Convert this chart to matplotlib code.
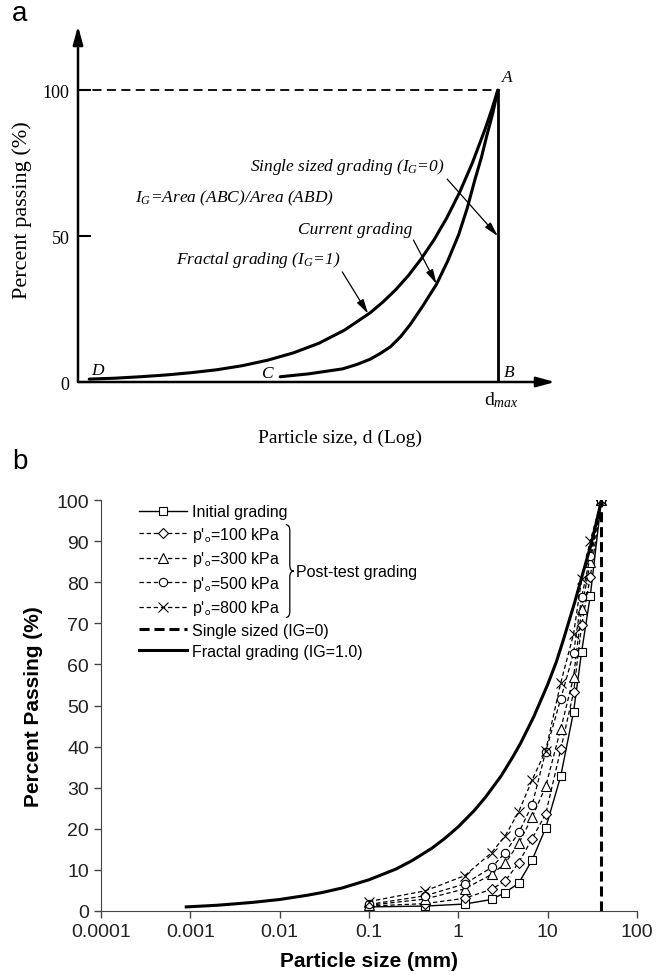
import matplotlib
matplotlib.use("Agg")
import matplotlib.pyplot as plt
from matplotlib.path import Path
from matplotlib.patches import PathPatch
from matplotlib.font_manager import FontProperties
from matplotlib.ticker import NullLocator

plt.rcParams["mathtext.fontset"] = "custom"
plt.rcParams["mathtext.rm"] = "Liberation Serif"
plt.rcParams["mathtext.it"] = "Liberation Serif:italic"

# ---------------- data: panel a (schematic, x = log10(d/dmax)) ----------------
fractal_a_logd = [-4.0, -3.75, -3.5, -3.25, -3.0, -2.75, -2.5, -2.25, -2.0, -1.75, -1.5, -1.25,
                  -1.125, -1.0, -0.875, -0.75, -0.625, -0.5, -0.375, -0.25, -0.125, -0.0625, 0.0]
fractal_a_pct = [1.0, 1.3, 1.8, 2.4, 3.2, 4.2, 5.6, 7.5, 10.0, 13.3, 17.8, 23.7,
                 27.4, 31.6, 36.5, 42.2, 48.7, 56.2, 64.9, 75.0, 86.6, 93.0, 100.0]

current_a_logd = [-2.13, -1.85, -1.52, -1.38, -1.25, -1.15, -1.05, -0.95, -0.855, -0.73,
                  -0.6, -0.49, -0.383, -0.3, -0.226, -0.16, -0.108, -0.05, 0.0]
current_a_pct = [1.8, 2.8, 4.5, 6.0, 7.8, 9.8, 12.1, 15.6, 19.8, 26.3,
                 33.5, 41.5, 50.5, 59.5, 69.1, 77.0, 84.4, 92.0, 100.0]

dmax_log = 0.0
full_pct = 100.0

# ---------------- data: panel b ----------------
sieve_mm = [0.1, 0.425, 1.18, 2.36, 3.35, 4.75, 6.7, 9.5, 14.0, 19.5, 24.0, 30.0, 40.0]
initial = [1.0, 1.2, 1.7, 2.8, 4.5, 6.8, 12.4, 20.2, 32.8, 48.5, 63.1, 76.7, 100.0]
p100 = [1.2, 1.8, 3.1, 5.3, 7.3, 11.8, 17.6, 23.6, 39.3, 53.2, 69.6, 81.3, 100.0]
p300 = [1.4, 2.9, 5.4, 8.9, 11.6, 16.5, 22.8, 30.3, 44.3, 56.9, 73.5, 85.0, 100.0]
p500 = [1.6, 3.7, 6.6, 10.6, 14.2, 19.1, 25.8, 38.8, 51.6, 62.8, 76.3, 86.4, 100.0]
p800 = [2.3, 4.9, 8.6, 14.2, 18.3, 24.2, 31.9, 39.0, 55.5, 67.4, 80.8, 90.1, 100.0]

fractal_mm = [0.0009, 0.0015, 0.002, 0.003, 0.005, 0.01, 0.02, 0.03, 0.05, 0.1, 0.2, 0.3, 0.5, 0.7,
              1, 1.5, 2, 3, 4, 5, 7, 10, 12.5, 15, 20, 25, 30, 35, 40]
fractal_pct = [1.0, 1.25, 1.4, 1.7, 2.1, 2.8, 3.8, 4.5, 5.6, 7.6, 10.2, 12.2, 15.2, 17.6,
               20.5, 24.4, 27.6, 32.8, 37.2, 40.9, 47.3, 55.1, 60.6, 66.0, 75.0, 82.5, 88.5, 94.4, 100.0]

dmax_mm = 40.0
xticks_b = [1e-4, 1e-3, 1e-2, 1e-1, 1, 10, 100]
xticklabels_b = ["0.0001", "0.001", "0.01", "0.1", "1", "10", "100"]
yticks_b = list(range(0, 101, 10))

W, H = 671, 979
fig = plt.figure(figsize=(W / 100, H / 100), dpi=100)


def box(l, t, r, b):
    return [l / W, 1 - b / H, (r - l) / W, (b - t) / H]


def px(x, y):
    return x / W, 1 - y / H


SERIF = "Liberation Serif"
SANS = "Liberation Sans"

# ======================= panel a =======================
axa = fig.add_axes(box(78, 27, 555, 383))
axa.set_xlim(-4.11, 0.56)
axa.set_ylim(0, 122)
for s in axa.spines.values():
    s.set_visible(False)
axa.set_xticks([])
axa.set_yticks([0, 50, 100])
axa.set_yticklabels(["0", "50", "100"], fontfamily=SERIF, fontsize=13)
axa.tick_params(axis="y", direction="in", length=9, width=1.5, pad=6)

head = "-|>,head_length=1.1,head_width=0.3"
axa.annotate("", xy=(1, 0), xytext=(0, 0), xycoords="axes fraction",
             arrowprops=dict(arrowstyle=head, lw=1.8, color="k", shrinkA=0, shrinkB=0))
axa.annotate("", xy=(0, 1), xytext=(0, 0), xycoords="axes fraction",
             arrowprops=dict(arrowstyle=head, lw=1.8, color="k", shrinkA=0, shrinkB=0))

axa.plot([axa.get_xlim()[0], dmax_log], [full_pct, full_pct], color="k", lw=1.3, dashes=(5, 3))
axa.plot([dmax_log, dmax_log], [0, full_pct], color="k", lw=2.0)
axa.plot(fractal_a_logd, fractal_a_pct, color="k", lw=2.2, solid_capstyle="round")
axa.plot(current_a_logd, current_a_pct, color="k", lw=2.2, solid_capstyle="round")

it = dict(fontfamily=SERIF, fontstyle="italic", fontsize=12.5)
small_head = "-|>,head_length=0.7,head_width=0.18"
axa.annotate(r"Single sized grading ($I_G$=0)", xy=(dmax_log, 50), xytext=(-0.52, 70.5),
             ha="right", va="bottom", **it,
             arrowprops=dict(arrowstyle=small_head, lw=0.9, color="k", shrinkA=0, shrinkB=0, relpos=(1, 0)))
axa.annotate("Current grading", xy=(-0.6, 33.6), xytext=(-0.84, 49.6),
             ha="right", va="bottom", **it,
             arrowprops=dict(arrowstyle=small_head, lw=0.9, color="k", shrinkA=0, shrinkB=0, relpos=(1, 0)))
axa.annotate(r"Fractal grading ($I_G$=1)", xy=(-1.27, 23.4), xytext=(-1.54, 38.7),
             ha="right", va="bottom", **it,
             arrowprops=dict(arrowstyle=small_head, lw=0.9, color="k", shrinkA=0, shrinkB=0, relpos=(1, 0)))
axa.text(-3.55, 63.4, r"$I_G$=Area (ABC)/Area (ABD)", ha="left", va="center", **it)

axa.text(0.09, 104.5, "A", ha="center", va="center", **it)
axa.text(0.11, 3.5, "B", ha="center", va="center", **it)
axa.text(-2.26, 3.0, "C", ha="center", va="center", **it)
axa.text(-3.92, 4.0, "D", ha="center", va="center", **it)
axa.text(0.03, -6.0, r"d$_{max}$", ha="center", va="center", fontfamily=SERIF, fontsize=14, clip_on=False)

fig.text(*px(22, 210), "Percent passing (%)", rotation=90, ha="center", va="center",
         fontfamily=SERIF, fontsize=16)
fig.text(*px(340, 438), "Particle size, d (Log)", ha="center", va="center",
         fontfamily=SERIF, fontsize=14)
fig.text(*px(12, 14), "a", ha="left", va="center", fontfamily=SANS, fontsize=20)
fig.text(*px(12, 462), "b", ha="left", va="center", fontfamily=SANS, fontsize=20)

# ======================= panel b =======================
axb = fig.add_axes(box(101, 501, 637, 912))
axb.set_xscale("log")
axb.set_xlim(1e-4, 100)
axb.set_ylim(0, 100)

mk = dict(mfc="white", mec="k", mew=0.8, color="k")
dash = (3.5, 2.2)
axb.plot(sieve_mm, initial, marker="s", ms=6, lw=1.0, label="Initial grading", **mk)
axb.plot(sieve_mm, p100, marker="D", ms=5, lw=0.9, dashes=dash, label="p'$_\\mathrm{o}$=100 kPa", **mk)
axb.plot(sieve_mm, p300, marker="^", ms=6.5, lw=0.9, dashes=dash, label="p'$_\\mathrm{o}$=300 kPa", **mk)
axb.plot(sieve_mm, p500, marker="o", ms=6, lw=0.9, dashes=dash, label="p'$_\\mathrm{o}$=500 kPa", **mk)
axb.plot(sieve_mm, p800, marker="x", ms=6.5, lw=0.9, dashes=dash, label="p'$_\\mathrm{o}$=800 kPa", **mk)
axb.plot([dmax_mm, dmax_mm], [0, 100], color="k", lw=2.2, dashes=(3.3, 1.6), label="Single sized (IG=0)")
axb.plot(fractal_mm, fractal_pct, color="k", lw=2.2, label="Fractal grading (IG=1.0)")

axb.set_xticks(xticks_b)
axb.set_xticklabels(xticklabels_b)
axb.xaxis.set_minor_locator(NullLocator())
axb.set_yticks(yticks_b)
for lab in axb.get_xticklabels() + axb.get_yticklabels():
    lab.set_fontfamily(SANS)
    lab.set_fontsize(14)
    lab.set_color("#222222")
axb.tick_params(length=5, width=1, color="#444444")
axb.spines[["top", "right"]].set_visible(False)
axb.spines[["left", "bottom"]].set_color("#444444")
axb.set_xlabel("Particle size (mm)", fontfamily=SANS, fontsize=15, fontweight="bold", labelpad=8)
axb.set_ylabel("Percent Passing (%)", fontfamily=SANS, fontsize=15, fontweight="bold", labelpad=10)

leg_font = FontProperties(family=SANS, size=11.5, math_fontfamily="stixsans")
leg = axb.legend(loc="upper left", bbox_to_anchor=(0.071, 0.99), frameon=False, prop=leg_font,
                 handlelength=3.0, handletextpad=0.3, labelspacing=0.35, borderpad=0, borderaxespad=0)

# brace grouping the post-test gradings
fig.canvas.draw()
renderer = fig.canvas.get_renderer()
texts = leg.get_texts()[1:5]
exts = [t.get_window_extent(renderer) for t in texts]
x0 = max(e.x1 for e in exts) + 6
y1 = exts[0].y1
y0 = exts[-1].y0
ym = (y0 + y1) / 2
w, q = 8, 6
verts = [(x0, y1), (x0 + w / 2, y1), (x0 + w / 2, y1 - q),
         (x0 + w / 2, ym + q),
         (x0 + w / 2, ym), (x0 + w, ym),
         (x0 + w / 2, ym), (x0 + w / 2, ym - q),
         (x0 + w / 2, y0 + q),
         (x0 + w / 2, y0), (x0, y0)]
codes = [Path.MOVETO, Path.CURVE3, Path.CURVE3, Path.LINETO, Path.CURVE3, Path.CURVE3,
         Path.CURVE3, Path.CURVE3, Path.LINETO, Path.CURVE3, Path.CURVE3]
verts = [fig.transFigure.inverted().transform(v) for v in verts]
fig.add_artist(PathPatch(Path(verts, codes), fill=False, lw=0.9, color="k", transform=fig.transFigure))
tx, ty = fig.transFigure.inverted().transform((x0 + w + 2, ym))
fig.text(tx, ty, "Post-test grading", ha="left", va="center", fontfamily=SANS, fontsize=11.5)

fig.savefig("out.png", dpi=100)
